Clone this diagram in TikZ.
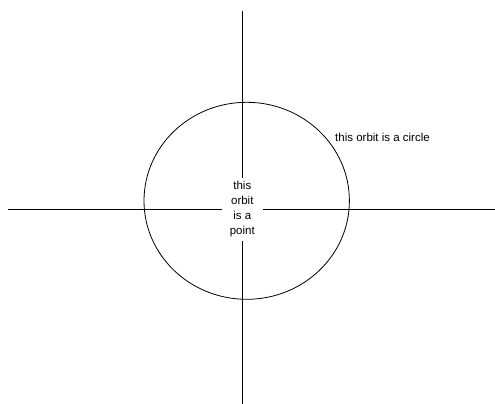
\documentclass[tikz,border=0pt]{standalone}
\usepackage{fontspec}
\setmainfont{Liberation Sans}
\begin{document}
\begin{tikzpicture}[x=1pt,y=-1pt,
  axis/.style={line width=0.9pt,draw=black},
  lbl/.style={font=\fontsize{11.5}{15}\selectfont,inner sep=0pt}]
\useasboundingbox (0,0) rectangle (495,404);
\coordinate (L) at (8,209.3);
\coordinate (R) at (495,209.3);
\coordinate (T) at (242.3,11);
\coordinate (B) at (242.3,404);
\draw[axis] (L) -- (R);
\draw[axis] (T) -- (B);
\draw[line width=0.8pt] (246.7,200.8) ellipse [x radius=102.7, y radius=98.5];
\node[lbl,fill=white,align=center,minimum width=41pt,minimum height=63pt] (pt) at (242.3,209.2) {this\\orbit\\is a\\point};
\node[lbl,anchor=base west] (circ) at (335,141.5) {this orbit is a circle};
\end{tikzpicture}
\end{document}
